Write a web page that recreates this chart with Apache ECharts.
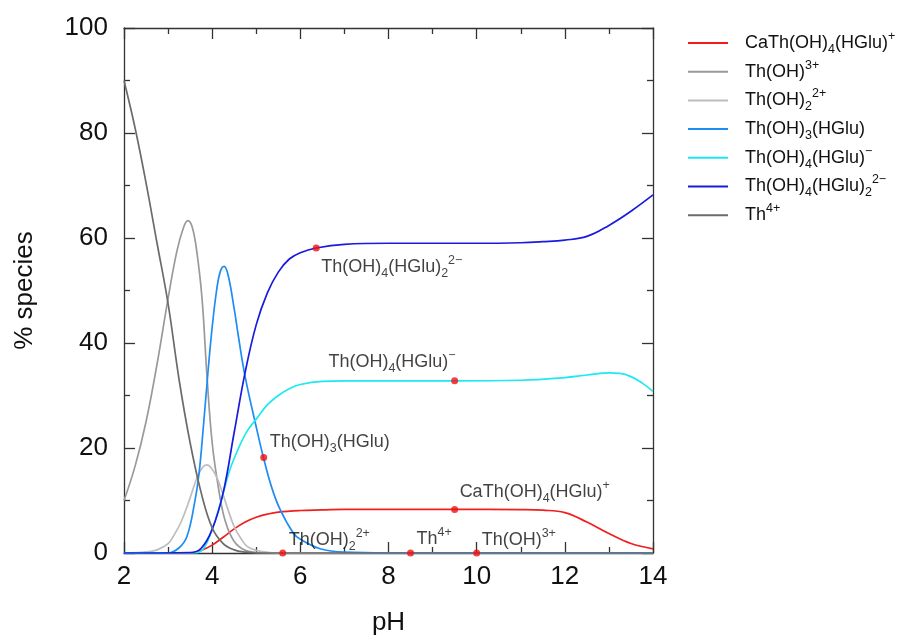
<!DOCTYPE html>
<html>
<head>
<meta charset="utf-8">
<script src="https://cdn.jsdelivr.net/npm/echarts@6/dist/echarts.min.js"></script>
<style>
  html, body { margin: 0; padding: 0; background: #ffffff; }
  #chart { width: 902px; height: 641px; }
</style>
</head>
<body>
<div id="chart"></div>
<script>
// Thorium speciation vs pH: percentage of each species, pairs are [pH, % species]
const caThOH4HGlu = [
  [2.0, 0], [3.5, 0], [3.75, 0.5], [4.0, 1.5], [4.25, 3.0], [4.5, 4.6], [4.75, 5.9],
  [5.0, 6.8], [5.25, 7.4], [5.5, 7.8], [6.0, 8.1], [6.5, 8.2], [7.0, 8.3], [8.0, 8.3],
  [9.5, 8.3], [11.0, 8.25], [11.5, 8.15], [12.0, 7.7], [12.5, 5.9], [13.0, 3.7],
  [13.5, 1.8], [14.0, 0.8]
];
const thOH = [
  [2.0, 10], [2.25, 16.5], [2.5, 25], [2.75, 36], [3.0, 48.5], [3.2, 57.5], [3.35, 62],
  [3.45, 63.3], [3.55, 62], [3.65, 57.5], [3.77, 48.5], [3.88, 34], [4.0, 21], [4.15, 12],
  [4.3, 6], [4.5, 2.2], [4.75, 0.5], [5.0, 0.1], [5.25, 0], [14.0, 0]
];
const thOH2 = [
  [2.0, 0], [2.5, 0.2], [2.75, 0.6], [3.0, 1.8], [3.12, 3.2], [3.3, 6], [3.5, 10.5],
  [3.65, 14.2], [3.78, 16.3], [3.88, 16.8], [3.98, 16.2], [4.1, 14.5], [4.2, 12.3],
  [4.35, 8.5], [4.5, 5], [4.65, 2.8], [4.8, 1.2], [5.0, 0.5], [5.3, 0.1], [5.6, 0], [14.0, 0]
];
const thOH3HGlu = [
  [2.0, 0], [3.0, 0], [3.25, 1], [3.43, 3.2], [3.6, 9.5], [3.7, 15], [3.8, 24], [3.9, 34],
  [4.0, 43], [4.1, 50], [4.18, 53.5], [4.27, 54.6], [4.36, 53], [4.5, 46.5], [4.6, 41],
  [4.75, 33.5], [5.0, 24], [5.16, 18.3], [5.35, 12.5], [5.54, 8.3], [5.84, 3.8], [6.0, 2.6],
  [6.45, 0.8], [7.0, 0.15], [8.0, 0], [14.0, 0]
];
const thOH4HGlu = [
  [2.0, 0], [3.6, 0], [3.8, 0.8], [4.0, 4.5], [4.1, 7], [4.2, 9.8], [4.4, 15.8], [4.6, 20],
  [4.8, 23.3], [5.0, 25.5], [5.25, 28.2], [5.5, 30.0], [5.75, 31.3], [6.0, 32.1], [6.5, 32.7],
  [7.0, 32.8], [8.0, 32.8], [9.5, 32.8], [11.0, 32.9], [12.0, 33.4], [12.5, 33.9],
  [13.0, 34.3], [13.25, 34.2], [13.5, 33.6], [13.75, 32.4], [14.0, 30.8]
];
const thOH4HGlu2 = [
  [2.0, 0], [3.5, 0.1], [3.75, 0.9], [4.0, 4.5], [4.25, 11.5], [4.5, 23], [4.75, 34.5],
  [5.0, 43.5], [5.25, 49.5], [5.5, 53.5], [5.75, 56], [6.0, 57.2], [6.36, 58.1], [7.0, 58.8],
  [8.0, 59.0], [10.0, 59.0], [11.0, 59.1], [11.5, 59.3], [12.0, 59.6], [12.5, 60.3],
  [13.0, 62.4], [13.5, 65.1], [14.0, 68.2]
];
const th4 = [
  [2.0, 90], [2.25, 81], [2.5, 70.5], [2.75, 59], [3.0, 47.5], [3.25, 33], [3.5, 21],
  [3.75, 11.5], [4.0, 4.8], [4.25, 1.8], [4.5, 0.6], [4.75, 0.15], [5.0, 0], [14.0, 0]
];

// Labelled points on the curves: [pH, % species]
const markerPoints = [
  [6.36, 58.1], [9.5, 32.8], [5.17, 18.2], [9.5, 8.3], [5.6, 0], [8.5, 0], [10.0, 0]
];
const markerTexts = [
  '{n|Th(OH)}{sb|4}{n|(HGlu)}{sb|2}{sp|2−}',
  '{n|Th(OH)}{sb|4}{n|(HGlu)}{sp|−}',
  '{n|Th(OH)}{sb|3}{n|(HGlu)}',
  '{n|CaTh(OH)}{sb|4}{n|(HGlu)}{sp|+}',
  '{n|Th(OH)}{sb|2}{sp|2+}',
  '{n|Th}{sp|4+}',
  '{n|Th(OH)}{sp|3+}'
];

const seriesNames = [
  'CaTh(OH)4(HGlu)+', 'Th(OH)3+', 'Th(OH)2 2+', 'Th(OH)3(HGlu)',
  'Th(OH)4(HGlu)-', 'Th(OH)4(HGlu)2 2-', 'Th4+'
];
const legendTexts = [
  '{n|CaTh(OH)}{sb|4}{n|(HGlu)}{sp|+}',
  '{n|Th(OH)}{sp|3+}',
  '{n|Th(OH)}{sb|2}{sp|2+}',
  '{n|Th(OH)}{sb|3}{n|(HGlu)}',
  '{n|Th(OH)}{sb|4}{n|(HGlu)}{sp|−}',
  '{n|Th(OH)}{sb|4}{n|(HGlu)}{sb|2}{sp|2−}',
  '{n|Th}{sp|4+}'
];
const seriesData = [caThOH4HGlu, thOH, thOH2, thOH3HGlu, thOH4HGlu, thOH4HGlu2, th4];
const seriesColors = ['#f21d1d', '#9a9a9a', '#bdbdbd', '#1e8cf5', '#1ee8f2', '#1a1ae0', '#6b6b6b'];

const FONT = '"Liberation Sans", Arial, Helvetica, sans-serif';
const TEXT = '#111111';
const rich = {
  n:  { fontFamily: FONT, fontSize: 18, lineHeight: 26, color: TEXT },
  sb: { fontFamily: FONT, fontSize: 12.5, lineHeight: 15, verticalAlign: 'bottom', color: TEXT },
  sp: { fontFamily: FONT, fontSize: 12.5, lineHeight: 15, verticalAlign: 'top', color: TEXT }
};

// where each curve label sits relative to its dot: [dx, dy, align]
const markerPlacement = [
  [5, 19, 'left'], [1, -19, 'right'], [6, -15, 'left'], [5, -17, 'left'],
  [6, -13, 'left'], [6, -14, 'left'], [5, -13, 'left']
];

const axisColor = '#333333';
function frameAxis(extra) {
  return Object.assign({
    type: 'value',
    axisLine: { show: true, onZero: false, lineStyle: { color: axisColor, width: 1.3 } },
    axisTick: { show: true, inside: true, length: 11, lineStyle: { color: axisColor, width: 1.3 } },
    minorTick: { show: true, splitNumber: 2, length: 6, lineStyle: { color: axisColor, width: 1.3 } },
    splitLine: { show: false },
    minorSplitLine: { show: false }
  }, extra);
}

const chart = echarts.init(document.getElementById('chart'), null, { renderer: 'canvas', width: 902, height: 641 });

const series = seriesNames.map((name, i) => ({
  name: name,
  type: 'line',
  data: seriesData[i],
  smooth: 0.4,
  showSymbol: false,
  symbol: 'none',
  clip: true,
  lineStyle: { color: seriesColors[i], width: 1.7 },
  itemStyle: { color: seriesColors[i] },
  emphasis: { disabled: true },
  z: 2 + i
}));

series.push({
  name: 'markers',
  type: 'scatter',
  symbol: 'circle',
  symbolSize: 7,
  itemStyle: { color: '#ee1111' },
  z: 20,
  emphasis: { disabled: true },
  data: markerPoints.map((p, i) => ({
    value: p,
    label: {
      show: true,
      position: 'inside',
      align: markerPlacement[i][2],
      verticalAlign: 'middle',
      offset: [markerPlacement[i][0], markerPlacement[i][1]],
      color: TEXT,
      textBorderWidth: 0,
      textShadowBlur: 0,
      formatter: markerTexts[i],
      rich: rich
    }
  }))
});

chart.setOption({
  animation: false,
  backgroundColor: '#ffffff',
  grid: { left: 124, top: 28, width: 529, height: 529, containLabel: false },
  legend: {
    data: seriesNames,
    orient: 'vertical',
    left: 683,
    top: 25,
    icon: 'rect',
    itemWidth: 40,
    itemHeight: 2,
    itemGap: 2.7,
    selectedMode: false,
    formatter: name => legendTexts[seriesNames.indexOf(name)],
    textStyle: { rich: rich, height: 26, lineHeight: 26, padding: [0, 0, 0, 12] }
  },
  xAxis: [
    frameAxis({
      min: 2, max: 14, interval: 2, position: 'bottom',
      name: 'pH', nameLocation: 'middle', nameGap: 57,
      nameTextStyle: { fontFamily: FONT, fontSize: 26, color: TEXT },
      axisLabel: { show: true, margin: 11, fontFamily: FONT, fontSize: 26, color: TEXT }
    }),
    frameAxis({
      min: 2, max: 14, interval: 2, position: 'top',
      axisLabel: { show: false }
    })
  ],
  yAxis: [
    frameAxis({
      min: 0, max: 100, interval: 20, position: 'left',
      name: '% species', nameLocation: 'middle', nameGap: 86,
      nameTextStyle: { fontFamily: FONT, fontSize: 26, color: TEXT },
      axisLabel: { show: true, margin: 16, fontFamily: FONT, fontSize: 26, color: TEXT }
    }),
    frameAxis({
      min: 0, max: 100, interval: 20, position: 'right',
      axisLabel: { show: false }
    })
  ],
  series: series
});
</script>
</body>
</html>
